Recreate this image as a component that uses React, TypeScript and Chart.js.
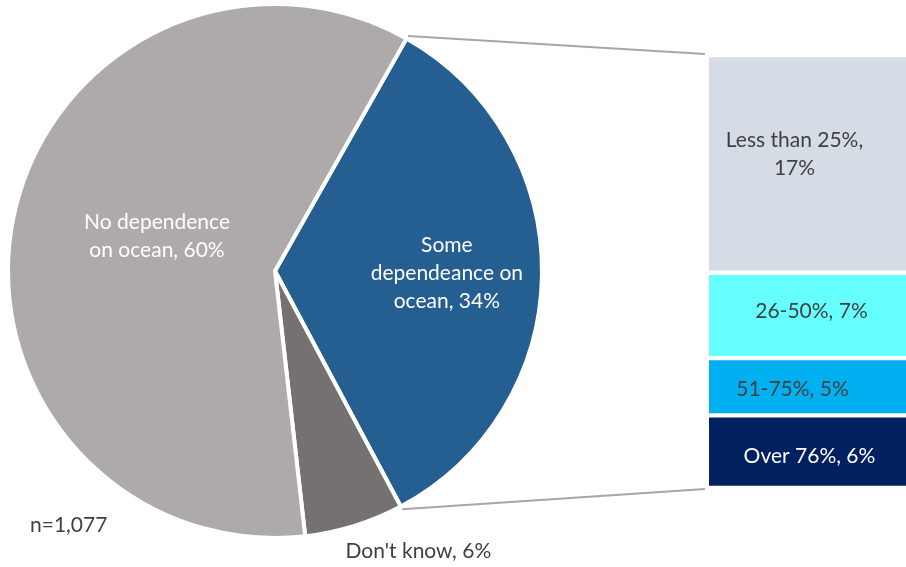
import React, { useEffect, useRef } from "react";
import { Chart, registerables } from "chart.js";

Chart.register(...registerables);

const pieLabels = ["Some dependeance on ocean", "Don't know", "No dependence on ocean"];
const pieValues = [34, 6, 60];
const pieColors = ["#255E91", "#767171", "#AEAAAA"];
const pieTextLines = [["Some", "dependeance on", "ocean, 34%"], ["Don't know, 6%"], ["No dependence", "on ocean, 60%"]];

const barLabels = ["Over 76%", "51-75%", "26-50%", "Less than 25%"];
const barValues = [5.7, 4.5, 6.7, 17.1];
const barColors = ["#002060", "#00B0F0", "#66FFFF", "#D6DCE5"];
const barTextLines = [["Over 76%, 6%"], ["51-75%, 5%"], ["26-50%, 7%"], ["Less than 25%,", "17%"]];
const barTextColors = ["#FFFFFF", "#404040", "#404040", "#404040"];
const barTextDx = [2, -15, 4, -13];
const barTextDy = [5, 2, -4, -10];

const FONT = "Lato, 'Liberation Sans', sans-serif";
const FONT_SIZE = 21;
const BAR_LEFT = 700;

export default function App() {
  const pieRef = useRef<HTMLCanvasElement>(null);
  const barRef = useRef<HTMLCanvasElement>(null);

  useEffect(() => {
    document.body.style.margin = "0";
    const barChart = new Chart(barRef.current!, {
      type: "bar",
      data: {
        labels: [""],
        datasets: barValues.map((v, i) => ({
          label: barLabels[i],
          data: [v],
          backgroundColor: barColors[i],
          borderColor: "#FFFFFF",
          borderWidth: { top: 2.5, bottom: 2.5, left: 0, right: 0 } as any,
          borderSkipped: false as any,
          barPercentage: 1,
          categoryPercentage: 1,
        })),
      },
      options: {
        animation: false,
        responsive: false,
        maintainAspectRatio: false,
        layout: { padding: { left: 9, right: 0, top: 55, bottom: 79 } },
        plugins: { legend: { display: false }, tooltip: { enabled: false } },
        scales: {
          x: { stacked: true, display: false },
          y: { stacked: true, display: false, min: 0, max: barValues.reduce((a, b) => a + b, 0) },
        },
      },
      plugins: [
        {
          id: "barText",
          afterDatasetsDraw(chart) {
            const ctx = chart.ctx;
            ctx.save();
            ctx.font = `${FONT_SIZE}px ${FONT}`;
            ctx.textAlign = "center";
            ctx.textBaseline = "middle";
            chart.data.datasets.forEach((_, i) => {
              const el: any = chart.getDatasetMeta(i).data[0];
              const cx = el.x + barTextDx[i];
              const cy = (el.y + el.base) / 2 + barTextDy[i];
              const lines = barTextLines[i];
              ctx.fillStyle = barTextColors[i];
              lines.forEach((t, k) => {
                ctx.fillText(t, cx, cy + (k - (lines.length - 1) / 2) * 28);
              });
            });
            ctx.restore();
          },
        },
      ],
    });

    const pieChart = new Chart(pieRef.current!, {
      type: "pie",
      data: {
        labels: pieLabels,
        datasets: [
          {
            data: pieValues,
            backgroundColor: pieColors,
            borderColor: "#FFFFFF",
            borderWidth: 4,
          },
        ],
      },
      options: {
        animation: false,
        responsive: false,
        maintainAspectRatio: false,
        rotation: 29.5,
        layout: { padding: { left: 6, top: 2, right: 362, bottom: 27 } },
        plugins: { legend: { display: false }, tooltip: { enabled: false } },
      },
      plugins: [
        {
          id: "pieExtras",
          afterDatasetsDraw(chart) {
            const ctx = chart.ctx;
            const meta = chart.getDatasetMeta(0);
            ctx.save();
            ctx.font = `${FONT_SIZE}px ${FONT}`;
            ctx.textAlign = "center";
            ctx.textBaseline = "middle";
            const fr = [0.64, 1.0, 0.47];
            const dxs = [1, 64, 5];
            const dys = [0, 25, -10];
            const colors = ["#FFFFFF", "#404040", "#FFFFFF"];
            meta.data.forEach((a: any, i) => {
              const mid = (a.startAngle + a.endAngle) / 2;
              const r = a.outerRadius * fr[i];
              const cx = a.x + Math.cos(mid) * r + dxs[i];
              const cy = a.y + Math.sin(mid) * r + dys[i];
              const lines = pieTextLines[i];
              ctx.fillStyle = colors[i];
              lines.forEach((t, k) => {
                ctx.fillText(t, cx, cy + (k - (lines.length - 1) / 2) * 28);
              });
            });
            ctx.fillStyle = "#404040";
            ctx.textAlign = "left";
            ctx.fillText("n=1,077", 30, 525);

            const arc: any = meta.data[0];
            const top: any = barChart.getDatasetMeta(3).data[0];
            const bottom: any = barChart.getDatasetMeta(0).data[0];
            const bx = BAR_LEFT + top.x - top.width / 2 - 4;
            const r = arc.outerRadius + 3;
            ctx.strokeStyle = "#A6A6A6";
            ctx.lineWidth = 2;
            ctx.beginPath();
            ctx.moveTo(arc.x + Math.cos(arc.startAngle) * r, arc.y + Math.sin(arc.startAngle) * r);
            ctx.lineTo(bx, top.y - 1);
            ctx.moveTo(arc.x + Math.cos(arc.endAngle) * r, arc.y + Math.sin(arc.endAngle) * r);
            ctx.lineTo(bx, bottom.base + 1);
            ctx.stroke();
            ctx.restore();
          },
        },
      ],
    });

    return () => {
      pieChart.destroy();
      barChart.destroy();
    };
  }, []);

  return (
    <div style={{ position: "fixed", left: 0, top: 0, width: 906, height: 567, background: "#FFFFFF" }}>
      <canvas ref={pieRef} width={906} height={567} style={{ position: "absolute", left: 0, top: 0, width: 906, height: 567 }} />
      <canvas ref={barRef} width={206} height={567} style={{ position: "absolute", left: BAR_LEFT, top: 0, width: 206, height: 567 }} />
    </div>
  );
}
